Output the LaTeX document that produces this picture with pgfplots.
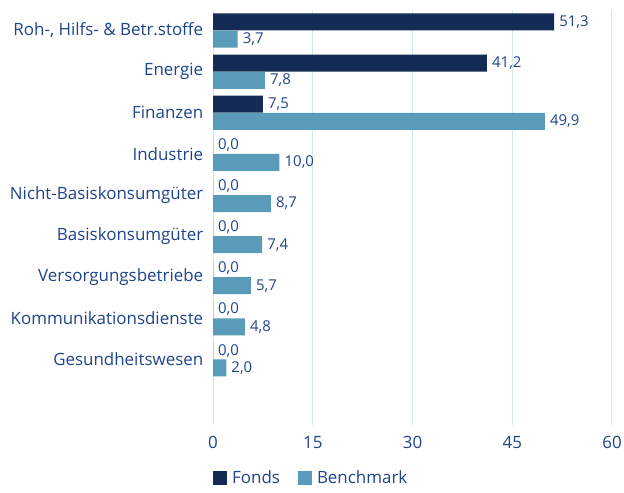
\documentclass[border=0pt]{standalone}
\usepackage{fontspec}
\setmainfont{Open Sans}
\usepackage{pgfplots}
\pgfplotsset{compat=1.18}
\definecolor{fonds}{RGB}{20,43,85}
\definecolor{bench}{RGB}{91,155,186}
\definecolor{txt}{RGB}{30,68,140}
\definecolor{gridc}{RGB}{210,232,240}
\begin{document}
\begin{tikzpicture}
\begin{axis}[
  at={(213bp,68bp)}, anchor=south west,
  scale only axis, width=399bp, height=415bp,
  xmin=0, xmax=60, ymin=-0.5, ymax=9.6, y dir=reverse,
  xtick={0,15,30,45,60},
  ytick={0,1,2,3,4,5,6,7,8},
  yticklabels={{Roh-, Hilfs- \& Betr.stoffe},Energie,Finanzen,Industrie,Nicht-Basiskonsumgüter,Basiskonsumgüter,Versorgungsbetriebe,Kommunikationsdienste,Gesundheitswesen},
  xmajorgrids, grid style={draw=gridc, line width=1bp},
  axis line style={draw=none}, tick style={draw=none},
  /pgf/number format/assume math mode=true,
  tick label style={font=\fontsize{17}{20}\selectfont, text=txt},
  yticklabel style={xshift=-2bp},
  xticklabel style={yshift=-8bp},
  xbar, bar width=17bp, bar shift=0pt,
  nodes near coords,
  nodes near coords style={font=\fontsize{15}{18}\selectfont, text=txt, anchor=west, inner sep=5bp,
    /pgf/number format/.cd, fixed, fixed zerofill, precision=1, use comma, assume math mode=true},
  legend style={draw=none, fill=none, at={(0,-0.127)}, anchor=west, legend columns=2,
    font=\fontsize{17}{20}\selectfont, text=txt, inner sep=0pt,
    /tikz/every even column/.append style={column sep=16bp}},
  legend image code/.code={\fill[#1] (0bp,-7bp) rectangle (14bp,7bp);},
  legend cell align=left,
]
\addplot[fill=fonds, draw=none] coordinates {
(51.3,-0.21) (41.2,0.79) (7.5,1.79) (0.0,2.79) (0.0,3.79) (0.0,4.79) (0.0,5.79) (0.0,6.79) (0.0,7.79)};
\addplot[fill=bench, draw=none] coordinates {
(3.7,0.21) (7.8,1.21) (49.9,2.21) (10.0,3.21) (8.7,4.21) (7.4,5.21) (5.7,6.21) (4.8,7.21) (2.0,8.21)};
\legend{\hspace{3bp}Fonds,\hspace{3bp}Benchmark}
\end{axis}
\pgfresetboundingbox
\path (0,0) rectangle (624bp,493bp);
\end{tikzpicture}
\end{document}
